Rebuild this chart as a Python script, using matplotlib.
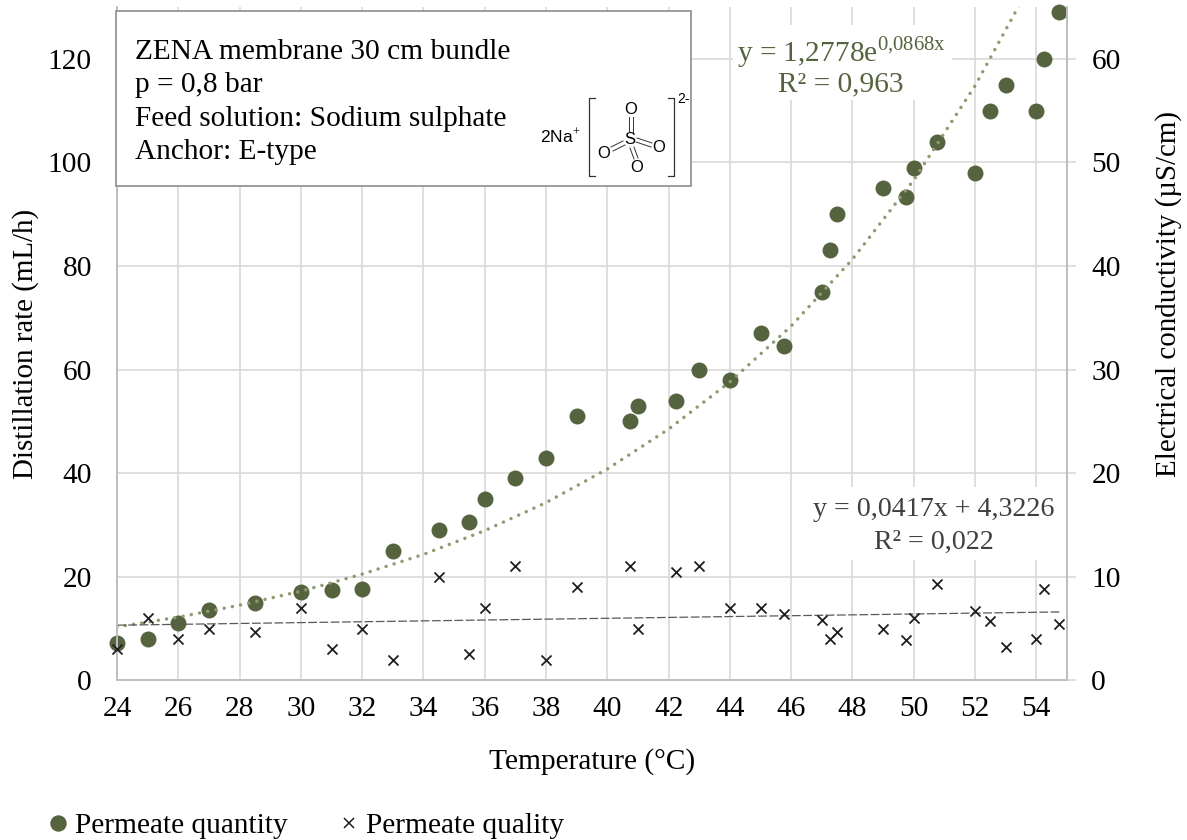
"""
plot.py - Distillation rate and conductivity vs. temperature, ZENA membrane bundle.
"""

import matplotlib
matplotlib.use("Agg")
import matplotlib.pyplot as plt
from matplotlib.lines import Line2D
from matplotlib.patches import Rectangle

# ---------------------------------------------------------------------------
# Data
# ---------------------------------------------------------------------------
temperature = [24, 25, 26, 27, 28.5, 30, 31, 32, 33, 34.5, 35.5, 36, 37, 38, 39,
               40.75, 41, 42.25, 43, 44, 45, 45.75, 47, 47.25, 47.5, 49, 49.75,
               50, 50.75, 52, 52.5, 53, 54, 54.25, 54.75]
quantity = [7.2, 8, 11, 13.5, 15, 17, 17.5, 17.7, 25, 29, 30.5, 35, 39, 43, 51,
            50, 53, 54, 60, 58, 67, 64.5, 75, 83, 90, 95, 93.3,
            99, 104, 98, 110, 115, 110, 120, 129]
quality = [3, 6, 4, 5, 4.7, 7, 3, 5, 2, 10, 2.5, 7, 11, 2, 9,
           11, 5, 10.5, 11, 7, 7, 6.4, 5.8, 4, 4.7, 5, 3.9,
           6, 9.3, 6.7, 5.7, 3.2, 4, 8.8, 5.4]

trend_exp_x = [24, 26, 28, 30, 32, 34, 36, 38, 40, 42, 44, 46, 48, 50, 52, 54]
trend_exp_y = [10.3, 12.2, 14.5, 17.2, 20.5, 24.3, 28.9, 34.3, 40.8, 48.5, 57.6,
               68.4, 81.3, 96.6, 114.8, 136.4]
trend_lin_x = [24, 54.75]
trend_lin_y = [5.32, 6.6]

x_ticks = list(range(24, 56, 2))
left_ticks = list(range(0, 121, 20))
right_ticks = list(range(0, 61, 10))

info_lines = ["ZENA membrane 30 cm bundle", "p = 0,8 bar",
              "Feed solution: Sodium sulphate", "Anchor: E-type"]

GREEN = "#56633F"
LIGHT_GREEN = "#8C9C70"
GRID = "#D9D9D9"
AXIS = "#BFBFBF"
FS = 21.2

plt.rcParams["font.family"] = ["Liberation Serif", "DejaVu Serif"]
plt.rcParams["mathtext.fontset"] = "custom"
plt.rcParams["mathtext.rm"] = "Liberation Serif"

W, H = 1187, 840
fig = plt.figure(figsize=(W / 100, H / 100), dpi=100)
ax = fig.add_axes([117 / W, 1 - 680.3 / H, (1067 - 117) / W, (680.3 - 7) / H])
ax2 = ax.twinx()

ax.set_xlim(24, 55)
ax.set_ylim(0, 130)
ax2.set_ylim(0, 65)

ax.set_xticks(x_ticks)
ax.set_yticks(left_ticks)
ax2.set_yticks(right_ticks)
ax.grid(True, color=GRID, linewidth=1.2)
ax.set_axisbelow(True)
ax.tick_params(axis="x", length=0, pad=11, labelsize=FS, colors="black")
ax.tick_params(axis="y", length=0, pad=18, labelsize=FS, colors="black")
ax2.tick_params(axis="y", length=6.5, width=1.2, color=GRID, pad=11, labelsize=FS)

for a in (ax, ax2):
    a.spines["top"].set_visible(False)
    for side in ("left", "right", "bottom"):
        a.spines[side].set_color(AXIS)
        a.spines[side].set_linewidth(1.4)

# -- Series ------------------------------------------------------------------
ax.scatter(temperature, quantity, s=132, color=GREEN, linewidths=0, zorder=3, clip_on=False)
ax.plot(trend_exp_x, trend_exp_y, color=LIGHT_GREEN, linewidth=2.5,
        linestyle=(0, (0.01, 2.4)), dash_capstyle="round", zorder=4)
ax2.plot(trend_lin_x, trend_lin_y, color="#595959", linewidth=0.9,
         linestyle=(0, (7, 2)), zorder=2)
ax2.scatter(temperature, quality, s=52, marker="x", color="#1F1F1F", linewidths=1.3,
            zorder=3, clip_on=False)

# -- Axis labels -------------------------------------------------------------
ax.set_xlabel("Temperature (°C)", fontsize=FS)
ax.xaxis.set_label_coords(0.5, -0.1)
ax.set_ylabel("Distillation rate (mL/h)", fontsize=20.9)
ax.yaxis.set_label_coords(-0.082, 0.5)
ax2.set_ylabel("Electrical conductivity (µS/cm)", fontsize=20.9)
ax2.yaxis.set_label_coords(1.093, 0.574)

# -- Annotations, placed in picture pixels ------------------------------------
over = fig.add_axes([0, 0, 1, 1], zorder=5)
over.set_xlim(0, W)
over.set_ylim(H, 0)
over.axis("off")

over.add_patch(Rectangle((733, 25), 219, 75, facecolor="white", edgecolor="none", zorder=0))
over.add_patch(Rectangle((808, 487), 258, 73, facecolor="white", edgecolor="none", zorder=0))
over.text(841, 52, r"y = 1,2778e$^{\mathrm{0{,}0868x}}$", color=GREEN, fontsize=FS,
          ha="center", va="center")
over.text(841, 84, "R² = 0,963", color=GREEN, fontsize=FS, ha="center", va="center")
over.text(934, 510, "y = 0,0417x + 4,3226", color="#404040", fontsize=20.2, ha="center", va="center")
over.text(934, 542, "R² = 0,022", color="#404040", fontsize=20.2, ha="center", va="center")

over.add_patch(Rectangle((116, 10.5), 575, 175.5, facecolor="white", edgecolor="#8C8C8C",
                         linewidth=1.2, zorder=1))
for i, line in enumerate(info_lines):
    over.text(135, 59 + i * 33.3, line, fontsize=FS, color="black", ha="left", va="baseline", zorder=2)

# sulphate structure
sans = ["Liberation Sans", "DejaVu Sans"]
over.text(560, 137, "2Na$^{+}$", family=sans, fontsize=12.5, ha="center", va="center", zorder=2)
for bx, tick in ((589, 6), (674, -6)):
    over.plot([bx + tick, bx, bx, bx + tick], [98, 98, 176, 176], color="#333333", lw=0.9, zorder=2)
over.text(684, 99, "2-", family=sans, fontsize=10, ha="center", va="center", zorder=2)
for ox, oy, label in ((631, 110, "O"), (630, 140, "S"), (604, 153, "O"), (659, 147, "O"), (637, 167, "O")):
    over.text(ox, oy, label, family=sans, fontsize=12, ha="center", va="center", zorder=2)
for seg in (([629, 629], [117, 132]), ([633, 633], [117, 132]),
            ([611, 623], [147, 141]), ([613, 625], [151, 145]),
            ([637, 652], [138, 143]), ([636, 651], [142, 147]),
            ([630, 634], [148, 159]), ([634, 638], [147, 158])):
    over.plot(seg[0], seg[1], color="#333333", lw=0.7, zorder=2)

# -- Legend ------------------------------------------------------------------
handles = [Line2D([], [], linestyle="none", marker="o", markersize=11.8, color=GREEN, markeredgewidth=0),
           Line2D([], [], linestyle="none", marker="x", markersize=7.5, color="#1F1F1F", markeredgewidth=1.1)]
fig.legend(handles, ["Permeate quantity", "Permeate quality"], ncol=2, frameon=False,
           fontsize=FS, loc="lower left", bbox_to_anchor=(41 / W, 1 - 839 / H),
           handletextpad=0.0, columnspacing=1.52, handlelength=1.15, borderpad=0, borderaxespad=0)

fig.savefig("out.png", dpi=100)
